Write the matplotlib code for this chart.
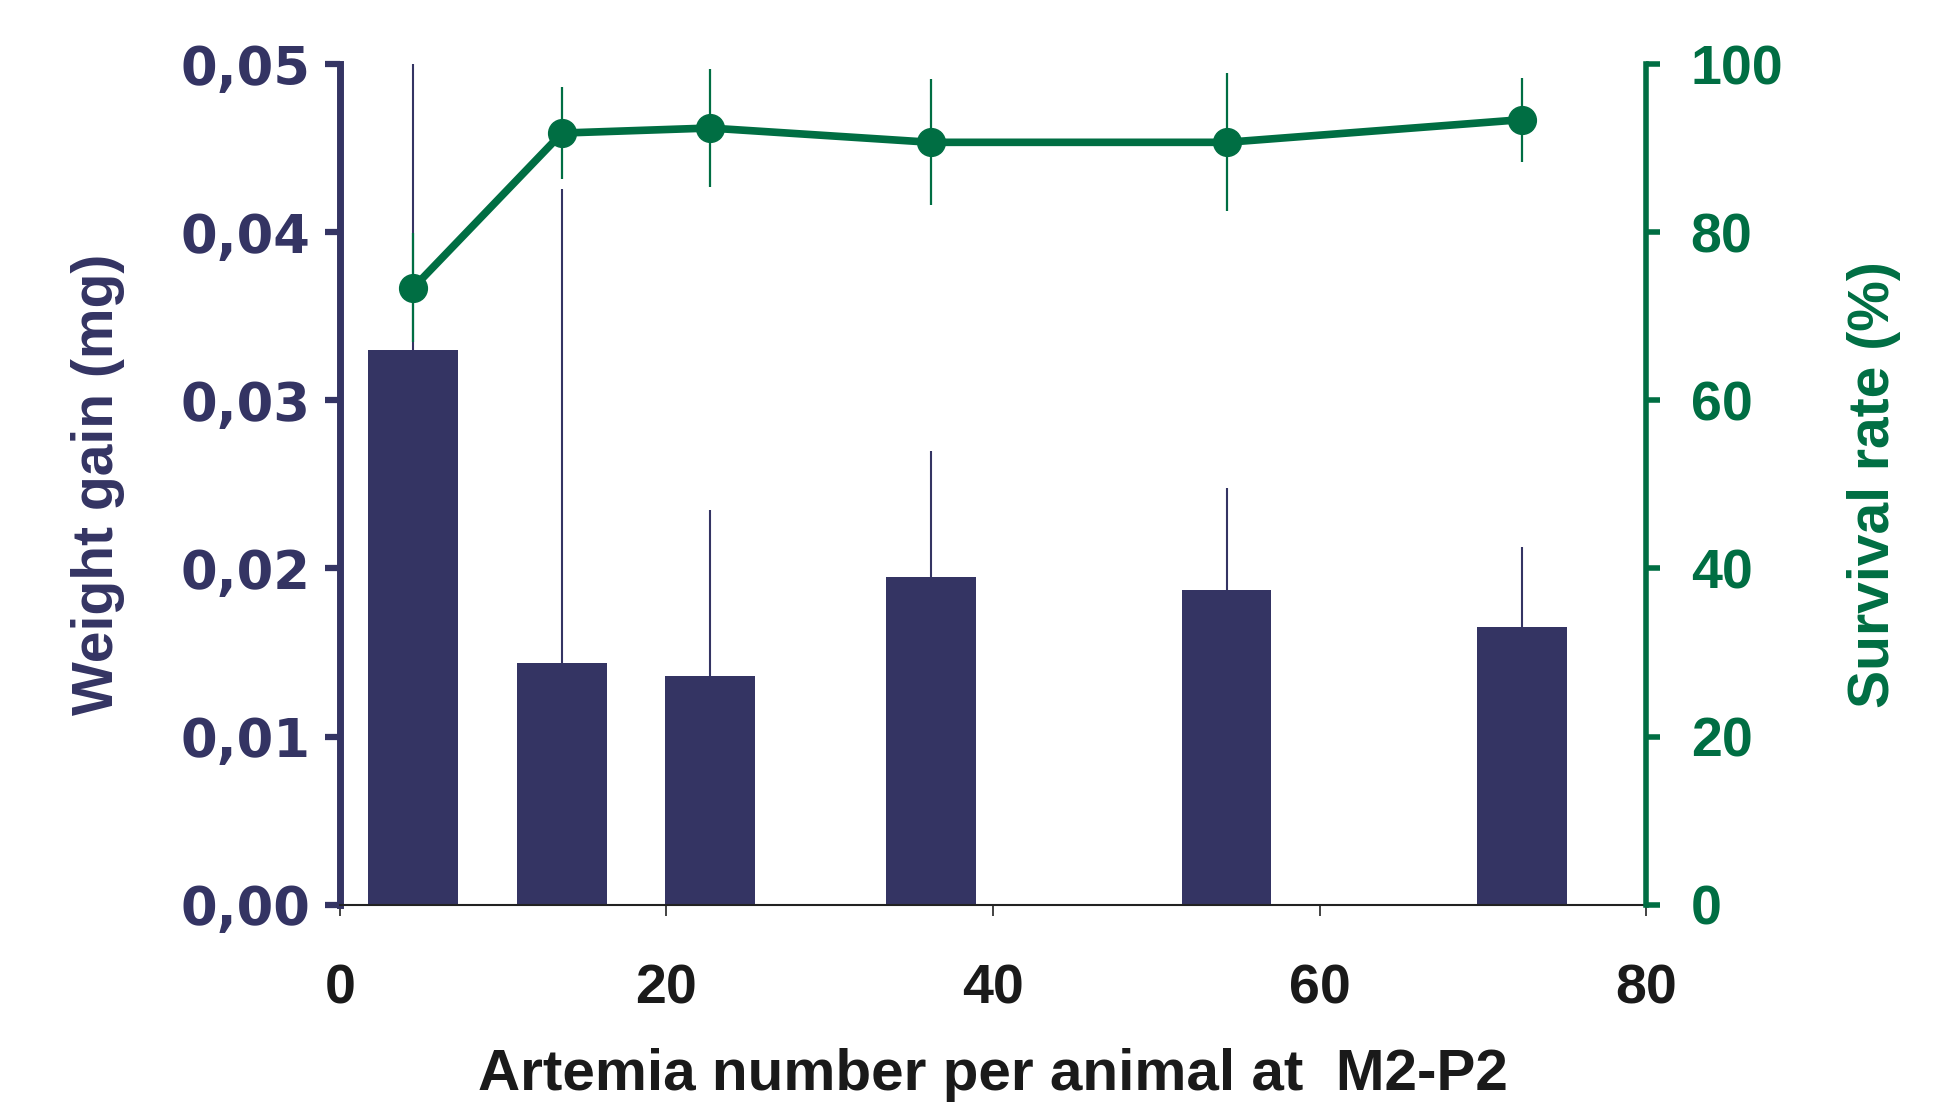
import matplotlib.pyplot as plt
from matplotlib import font_manager

# Datos
artemia = [4.5, 13.6, 22.65, 36.2, 54.3, 72.4]
weight_gain = [0.0330, 0.0144, 0.0136, 0.0195, 0.0187, 0.0165]
weight_err = [0.0170, 0.0282, 0.0099, 0.0075, 0.0061, 0.0048]
survival = [73.4, 91.8, 92.4, 90.7, 90.7, 93.4]
survival_err = [6.5, 5.5, 7.0, 7.5, 8.2, 5.0]

x_ticks = [0, 20, 40, 60, 80]
left_ticks = [0.0, 0.01, 0.02, 0.03, 0.04, 0.05]
left_labels = ["0,00", "0,01", "0,02", "0,03", "0,04", "0,05"]
right_ticks = [0, 20, 40, 60, 80, 100]

NAVY = "#343463"
GREEN = "#006e43"

names = {f.name for f in font_manager.fontManager.ttflist}
narrow = "Liberation Sans Narrow" if "Liberation Sans Narrow" in names else "Liberation Sans"

fig = plt.figure(figsize=(19.39, 11.06), dpi=100)
ax = fig.add_axes([0.1753, 0.182, 0.6737, 0.760])

ax.bar(artemia, weight_gain, width=5.5, color=NAVY, zorder=2)
ax.errorbar(artemia, weight_gain, yerr=[[0] * len(weight_err), weight_err],
            fmt="none", ecolor=NAVY, elinewidth=1.5, capsize=0, zorder=1)

ax.set_xlim(0, 80)
ax.set_ylim(0, 0.05)
ax.set_xticks(x_ticks)
ax.set_yticks(left_ticks)
ax.set_yticklabels(left_labels)

for side in ["top", "right"]:
    ax.spines[side].set_visible(False)
ax.spines["left"].set_color(NAVY)
ax.spines["left"].set_linewidth(5)
ax.spines["bottom"].set_color("#222222")
ax.spines["bottom"].set_linewidth(1.5)

ax.tick_params(axis="y", colors=NAVY, length=11, width=4.5, pad=10)
ax.tick_params(axis="x", colors="#222222", length=8, width=1.2, pad=34)
for lab in ax.get_yticklabels():
    lab.set_fontfamily("DejaVu Sans")
    lab.set_fontweight("bold")
    lab.set_fontsize(38)
for lab in ax.get_xticklabels():
    lab.set_fontfamily(narrow)
    lab.set_fontweight("bold")
    lab.set_fontsize(40)
    lab.set_color("#1a1a1a")

ax.set_ylabel("Weight gain (mg)", fontfamily=narrow, fontweight="bold",
              fontsize=41, color=NAVY, labelpad=40)
ax.set_xlabel("Artemia number per animal at  M2-P2", fontfamily=narrow,
              fontweight="bold", fontsize=42, color="#1a1a1a", labelpad=24)

ax2 = ax.twinx()
ax2.errorbar(artemia, survival, yerr=survival_err, fmt="none",
             ecolor=GREEN, elinewidth=1.6, capsize=0, zorder=3)
ax2.plot(artemia, survival, color=GREEN, linewidth=5.5, marker="o",
         markersize=20, zorder=4)
ax2.set_ylim(0, 100)
ax2.set_yticks(right_ticks)
for side in ["top", "left", "bottom"]:
    ax2.spines[side].set_visible(False)
ax2.spines["right"].set_color(GREEN)
ax2.spines["right"].set_linewidth(4)
ax2.tick_params(axis="y", colors=GREEN, length=10, width=4, pad=22)
for lab in ax2.get_yticklabels():
    lab.set_fontfamily(narrow)
    lab.set_fontweight("bold")
    lab.set_fontsize(40)
ax2.set_ylabel("Survival rate (%)", fontfamily=narrow, fontweight="bold",
               fontsize=41, color=GREEN, rotation=90, labelpad=46)

fig.savefig("out.png", dpi=100)
